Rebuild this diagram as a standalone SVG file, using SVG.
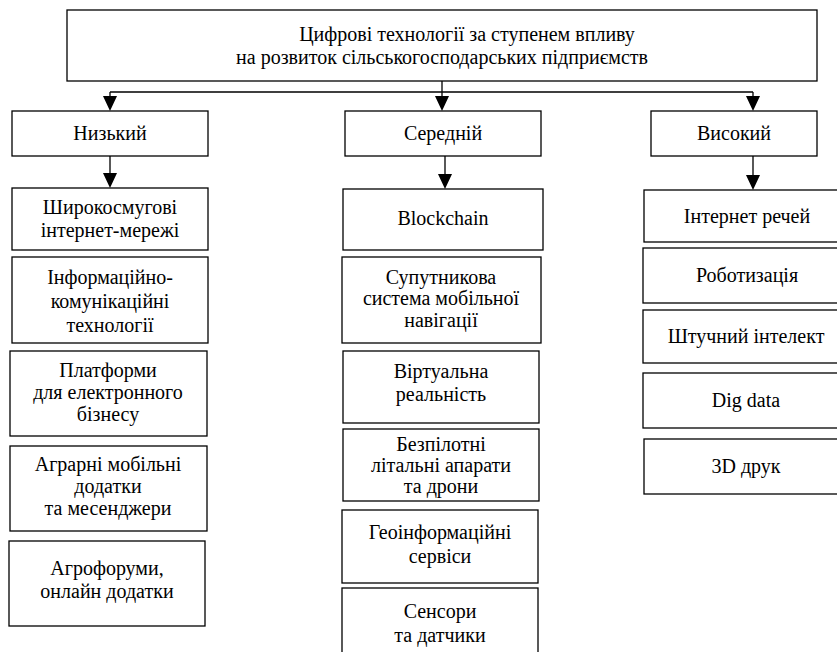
<svg xmlns="http://www.w3.org/2000/svg" width="837" height="652" viewBox="0 0 837 652">
<rect x="0" y="0" width="837" height="652" fill="#fff"/>
<g id="connectors">
<path d="M442,81 V92 M110,92 H753 M110,92 V97 M442,92 V97 M753,92 V97 M110,156 V174 M445,156 V175 M753,156 V176" fill="none" stroke="#000" stroke-width="1.3"/>
<polygon points="103,96 117,96 110,111" fill="#000"/>
<polygon points="435,96 449,96 442,111" fill="#000"/>
<polygon points="746,96 760,96 753,111" fill="#000"/>
<polygon points="103,173 117,173 110,188" fill="#000"/>
<polygon points="438,174 452,174 445,189" fill="#000"/>
<polygon points="746,175 760,175 753,190" fill="#000"/>
</g>
<g id="root"><rect x="67" y="10" width="750" height="71" fill="#fff" stroke="#000" stroke-width="1.3"/>
<text font-family="serif" font-size="20" text-anchor="middle" x="467" y="41">Цифрові технології за ступенем впливу</text>
<text font-family="serif" font-size="20" text-anchor="middle" x="442" y="64">на розвиток сільськогосподарських підприємств</text></g>
<g id="low"><rect x="12" y="111" width="196" height="45" fill="#fff" stroke="#000" stroke-width="1.3"/><text font-family="serif" font-size="20" text-anchor="middle" x="110" y="140">Низький</text></g>
<g id="mid"><rect x="345" y="111" width="196" height="45" fill="#fff" stroke="#000" stroke-width="1.3"/><text font-family="serif" font-size="20" text-anchor="middle" x="443" y="140">Середній</text></g>
<g id="high"><rect x="651" y="111" width="166" height="45" fill="#fff" stroke="#000" stroke-width="1.3"/><text font-family="serif" font-size="20" text-anchor="middle" x="734" y="140">Високий</text></g>

<g id="l1"><rect x="12" y="188" width="196" height="62" fill="#fff" stroke="#000" stroke-width="1.3"/><text font-family="serif" font-size="20" text-anchor="middle" x="110" y="214">Широкосмугові</text><text font-family="serif" font-size="20" text-anchor="middle" x="110" y="237">інтернет-мережі</text></g>
<g id="l2"><rect x="12" y="257" width="196" height="86" fill="#fff" stroke="#000" stroke-width="1.3"/><text font-family="serif" font-size="20" text-anchor="middle" x="110" y="284">Інформаційно-</text><text font-family="serif" font-size="20" text-anchor="middle" x="110" y="308">комунікаційні</text><text font-family="serif" font-size="20" text-anchor="middle" x="110" y="332">технології</text></g>
<g id="l3"><rect x="10" y="351" width="197" height="85" fill="#fff" stroke="#000" stroke-width="1.3"/><text font-family="serif" font-size="20" text-anchor="middle" x="108" y="377">Платформи</text><text font-family="serif" font-size="20" text-anchor="middle" x="108" y="399">для електронного</text><text font-family="serif" font-size="20" text-anchor="middle" x="108" y="421">бізнесу</text></g>
<g id="l4"><rect x="10" y="446" width="197" height="85" fill="#fff" stroke="#000" stroke-width="1.3"/><text font-family="serif" font-size="20" text-anchor="middle" x="108" y="471">Аграрні мобільні</text><text font-family="serif" font-size="20" text-anchor="middle" x="108" y="493">додатки</text><text font-family="serif" font-size="20" text-anchor="middle" x="108" y="515">та месенджери</text></g>
<g id="l5"><rect x="9" y="541" width="196" height="85" fill="#fff" stroke="#000" stroke-width="1.3"/><text font-family="serif" font-size="20" text-anchor="middle" x="107" y="575">Агрофоруми,</text><text font-family="serif" font-size="20" text-anchor="middle" x="107" y="598">онлайн додатки</text></g>

<g id="m1"><rect x="343" y="189" width="200" height="61" fill="#fff" stroke="#000" stroke-width="1.3"/><text font-family="serif" font-size="20" text-anchor="middle" x="443" y="225">Blockchain</text></g>
<g id="m2"><rect x="342" y="257" width="199" height="86" fill="#fff" stroke="#000" stroke-width="1.3"/><text font-family="serif" font-size="20" text-anchor="middle" x="441" y="284">Супутникова</text><text font-family="serif" font-size="20" text-anchor="middle" x="441" y="305">система мобільної</text><text font-family="serif" font-size="20" text-anchor="middle" x="441" y="327">навігації</text></g>
<g id="m3"><rect x="343" y="351" width="196" height="72" fill="#fff" stroke="#000" stroke-width="1.3"/><text font-family="serif" font-size="20" text-anchor="middle" x="441" y="378">Віртуальна</text><text font-family="serif" font-size="20" text-anchor="middle" x="441" y="401">реальність</text></g>
<g id="m4"><rect x="343" y="429" width="196" height="72" fill="#fff" stroke="#000" stroke-width="1.3"/><text font-family="serif" font-size="20" text-anchor="middle" x="441" y="451">Безпілотні</text><text font-family="serif" font-size="20" text-anchor="middle" x="441" y="472">літальні апарати</text><text font-family="serif" font-size="20" text-anchor="middle" x="441" y="493">та дрони</text></g>
<g id="m5"><rect x="342" y="510" width="196" height="73" fill="#fff" stroke="#000" stroke-width="1.3"/><text font-family="serif" font-size="20" text-anchor="middle" x="440" y="539">Геоінформаційні</text><text font-family="serif" font-size="20" text-anchor="middle" x="440" y="563">сервіси</text></g>
<g id="m6"><rect x="342" y="588" width="196" height="80" fill="#fff" stroke="#000" stroke-width="1.3"/><text font-family="serif" font-size="20" text-anchor="middle" x="440" y="618">Сенсори</text><text font-family="serif" font-size="20" text-anchor="middle" x="440" y="642">та датчики</text></g>

<g id="h1"><rect x="644" y="190" width="200" height="52" fill="#fff" stroke="#000" stroke-width="1.3"/><text font-family="serif" font-size="20" text-anchor="middle" x="747" y="223">Інтернет речей</text></g>
<g id="h2"><rect x="643" y="248" width="201" height="55" fill="#fff" stroke="#000" stroke-width="1.3"/><text font-family="serif" font-size="20" text-anchor="middle" x="747" y="282">Роботизація</text></g>
<g id="h3"><rect x="643" y="310" width="201" height="53" fill="#fff" stroke="#000" stroke-width="1.3"/><text font-family="serif" font-size="20" text-anchor="middle" x="746" y="343">Штучний інтелект</text></g>
<g id="h4"><rect x="643" y="373" width="201" height="55" fill="#fff" stroke="#000" stroke-width="1.3"/><text font-family="serif" font-size="20" text-anchor="middle" x="746" y="407">Dig data</text></g>
<g id="h5"><rect x="644" y="439" width="200" height="55" fill="#fff" stroke="#000" stroke-width="1.3"/><text font-family="serif" font-size="20" text-anchor="middle" x="746" y="473">3D друк</text></g>
</svg>
